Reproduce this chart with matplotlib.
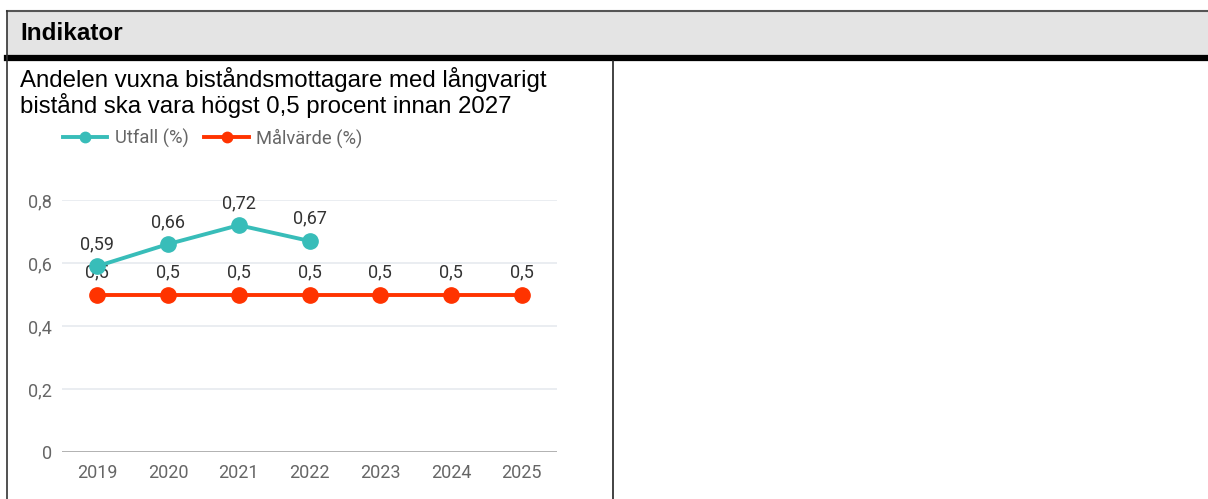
import matplotlib
matplotlib.use("Agg")
import matplotlib.pyplot as plt
from matplotlib.lines import Line2D
from matplotlib.patches import Rectangle

years = ["2019", "2020", "2021", "2022", "2023", "2024", "2025"]
utfall = [0.59, 0.66, 0.72, 0.67]
malvarde = [0.5, 0.5, 0.5, 0.5, 0.5, 0.5, 0.5]
yticks = [0, 0.2, 0.4, 0.6, 0.8]
header_text = "Indikator"
title_text = "Andelen vuxna biståndsmottagare med långvarigt\nbistånd ska vara högst 0,5 procent innan 2027"
series_names = ["Utfall (%)", "Målvärde (%)"]

W, H = 1208, 499
fig = plt.figure(figsize=(W / 100, H / 100), dpi=100)

def fx(px):
    return px / W

def fy(py):
    return 1 - py / H

# table frame
fig.patches.append(Rectangle((fx(7), fy(55)), fx(1208) - fx(7), fy(11) - fy(55),
                             transform=fig.transFigure, facecolor="#e4e4e4",
                             edgecolor="none", zorder=0))
fig.add_artist(Line2D([fx(7), fx(1208)], [fy(11), fy(11)], transform=fig.transFigure,
                      color="#555555", lw=1.5))
fig.add_artist(Line2D([fx(7), fx(1208)], [fy(58), fy(58)], transform=fig.transFigure,
                      color="black", lw=4.5))
fig.add_artist(Line2D([fx(7), fx(7)], [fy(11), fy(499)], transform=fig.transFigure,
                      color="#333333", lw=1.2))
fig.add_artist(Line2D([fx(612.5), fx(612.5)], [fy(61), fy(499)], transform=fig.transFigure,
                      color="#222222", lw=1.2))

fig.text(fx(20), fy(34), header_text, fontsize=17.5, fontweight="bold",
         family="Liberation Sans", va="center", ha="left", color="black")
fig.text(fx(20), fy(66.5), title_text, fontsize=17.3, family="Liberation Sans",
         va="top", ha="left", color="black", linespacing=1.07)

# chart
ax = fig.add_axes([fx(62), fy(452), fx(557) - fx(62), fy(200) - fy(452)])
x_all = list(range(len(years)))
teal = "#38bdb9"
red = "#ff3300"
ax.plot(x_all[:len(utfall)], utfall, color=teal, lw=2.8, marker="o", ms=11,
        clip_on=False, zorder=4, label=series_names[0])
ax.plot(x_all, malvarde, color=red, lw=2.8, marker="o", ms=11,
        clip_on=False, zorder=3, label=series_names[1])

for xi, v in zip(x_all, utfall):
    ax.annotate(f"{v:g}".replace(".", ","), (xi, v), xytext=(0, 9.5), textcoords="offset points",
                ha="center", va="bottom", fontsize=13, family="Roboto", color="#333333",
                annotation_clip=False)
for xi, v in zip(x_all, malvarde):
    ax.annotate(f"{v:g}".replace(".", ","), (xi, v), xytext=(0, 9.5), textcoords="offset points",
                ha="center", va="bottom", fontsize=13, family="Roboto", color="#333333",
                annotation_clip=False)

ax.set_xlim(-0.5, len(years) - 0.5)
ax.set_ylim(0, 0.8)
ax.set_yticks(yticks)
ax.set_yticklabels([f"{t:g}".replace(".", ",") for t in yticks], family="Roboto",
                   fontsize=13, color="#666666")
ax.set_xticks(x_all)
ax.set_xticklabels(years, family="Roboto", fontsize=13, color="#666666")
ax.tick_params(length=0, pad=7)
ax.tick_params(axis="x", pad=9)
for s in ax.spines.values():
    s.set_visible(False)
for t in yticks[1:]:
    ax.axhline(t, color="#e8ecf0", lw=1.3, zorder=1)
ax.axhline(0, color="#aaaaaa", lw=2, zorder=2)

leg = fig.legend(handles=ax.get_lines(), labels=series_names, loc="center left",
                 bbox_to_anchor=(fx(46), fy(138)), ncol=2, frameon=False,
                 prop={"family": "Roboto", "size": 13.2}, handlelength=2.45,
                 handletextpad=0.4, columnspacing=0.85, markerscale=0.68)
for t in leg.get_texts():
    t.set_color("#666666")

fig.savefig("out.png", dpi=100)
